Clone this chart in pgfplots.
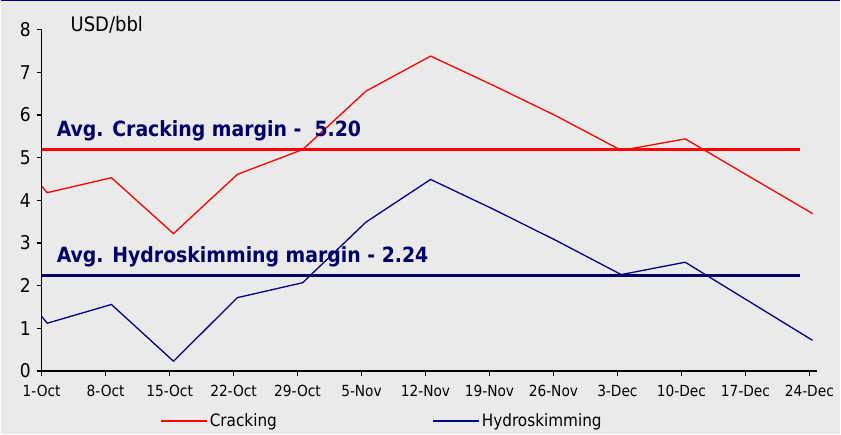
\documentclass[border=0pt]{standalone}
\usepackage{fontspec}
\setmainfont{DejaVu Sans Condensed}[BoldFont={DejaVu Sans Condensed Bold}]
\usepackage{pgfplots}
\pgfplotsset{compat=1.18}
\definecolor{bgc}{HTML}{EAEAEA}
\definecolor{navyline}{HTML}{000080}
\definecolor{navytext}{HTML}{000066}

\begin{document}
\begin{tikzpicture}[x=1pt,y=1pt]
\fill[bgc] (0,0) rectangle (841,435);
\draw[navyline, line width=1.5pt] (0,434.25) -- (841,434.25);
\path[use as bounding box] (0,0) rectangle (841,435);
\begin{axis}[
  at={(41pt,63.3pt)}, anchor=south west,
  scale only axis, width=777pt, height=342pt,
  xmin=0, xmax=12.125, ymin=0, ymax=8,
  axis x line*=bottom, axis y line*=left,
  axis line style={line width=1.2pt, black},
  tick align=outside, major tick length=4.5pt,
  major tick style={line width=1.2pt, black},
  xtick={0,...,12},
  xticklabels={1-Oct,8-Oct,15-Oct,22-Oct,29-Oct,5-Nov,12-Nov,19-Nov,26-Nov,3-Dec,10-Dec,17-Dec,24-Dec},
  ytick={0,...,8},
  /pgf/number format/assume math mode=true,
  xticklabel style={font=\fontsize{15.3}{17}\selectfont, yshift=-6pt},
  yticklabel style={font=\fontsize{19}{21}\selectfont, xshift=-3pt},
  clip=false,
  legend style={at={(0.153,-0.146)}, anchor=west, draw=none, fill=none,
    inner sep=0pt, font=\fontsize{17}{19}\selectfont,
    /tikz/every even column/.append style={column sep=154pt}},
  legend columns=2,
  legend cell align=left,
  legend image code/.code={\draw[#1] (0pt,0pt) -- (46pt,0pt);},
]
% weekly refining margins
\addplot[red, line width=1.3pt] coordinates {
  (0,4.33) (0.086,4.18) (1.09,4.53) (2.06,3.22) (3.06,4.61) (4.08,5.19)
  (5.07,6.56) (6.08,7.38) (7.05,6.70) (8.04,5.98) (9.06,5.17) (10.06,5.44)
  (12.05,3.69)};
\addlegendentry{Cracking}
\addplot[navyline, line width=1.3pt] coordinates {
  (0,1.28) (0.086,1.12) (1.09,1.56) (2.06,0.23) (3.06,1.72) (4.08,2.07)
  (5.07,3.49) (6.08,4.49) (7.05,3.80) (8.04,3.06) (9.06,2.26) (10.06,2.55)
  (12.05,0.72)};
\addlegendentry{Hydroskimming}
% period averages
\addplot[red, line width=3pt, forget plot] coordinates {(0,5.20) (11.86,5.20)};
\addplot[navytext, line width=3pt, forget plot] coordinates {(0,2.24) (11.86,2.24)};
\node[anchor=base west, inner sep=0pt, text=navytext, font=\fontsize{21}{24}\selectfont\bfseries]
  at (axis cs:0.234,5.50) {Avg. Cracking margin -\ \ 5.20};
\node[anchor=base west, inner sep=0pt, text=navytext, font=\fontsize{21}{24}\selectfont\bfseries]
  at (axis cs:0.234,2.54) {Avg. Hydroskimming margin - 2.24};
\node[anchor=base west, inner sep=0pt, font=\fontsize{20}{22}\selectfont]
  at (axis cs:0.45,7.95) {USD/bbl};
\end{axis}
\end{tikzpicture}
\end{document}
